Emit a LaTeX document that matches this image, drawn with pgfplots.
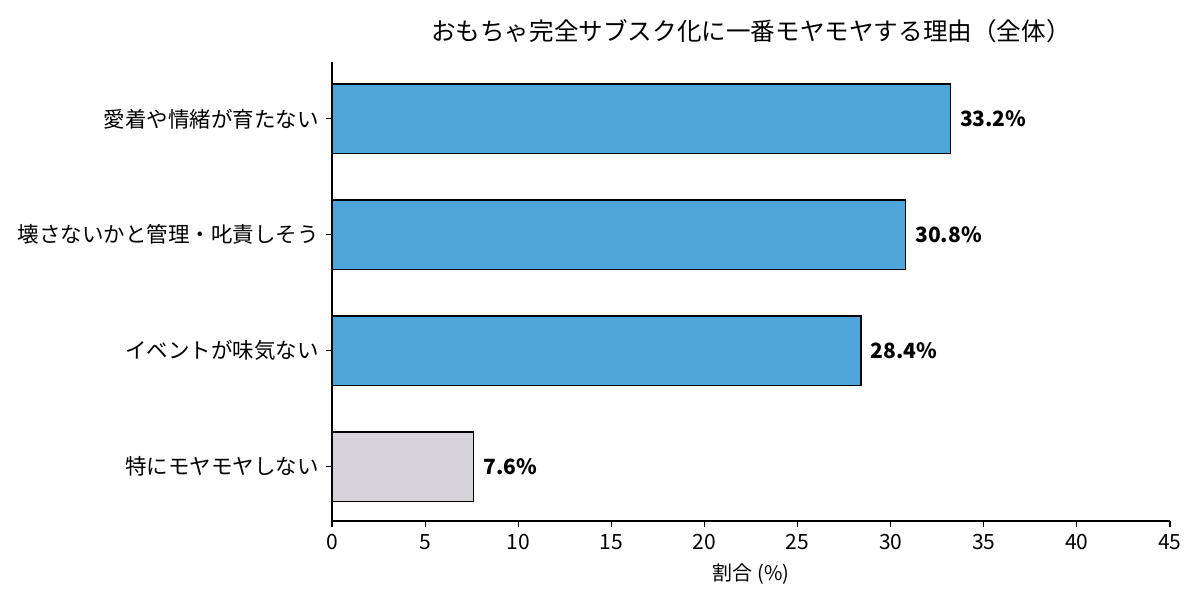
\documentclass[border=0pt]{standalone}
\usepackage{pgfplots}
\pgfplotsset{compat=1.18}
\usepackage{fontspec}
\setmainfont{Noto Sans CJK JP}
\definecolor{barblue}{HTML}{4EA5DA}
\definecolor{bargrey}{HTML}{D5D3D8}
\begin{document}
\begin{tikzpicture}
\path[use as bounding box] (-166pt,-39.5pt) rectangle (434pt,260.5pt);
\begin{axis}[
  at={(0,0)}, anchor=south west,
  scale only axis, width=419pt, height=229.5pt,
  xbar, bar width=0.6, bar shift=0pt,
  xmin=0, xmax=45, ymin=-0.47, ymax=3.49,
  axis x line*=bottom, axis y line*=left,
  xtick={0,5,...,45},
  ytick={0,1,2,3},
  yticklabels={特にモヤモヤしない,イベントが味気ない,壊さないかと管理・叱責しそう,愛着や情緒が育たない},
  tick align=outside, tick pos=lower,
  major tick length=3pt,
  tick style={black, line width=0.6pt},
  axis line style={black, line width=0.6pt},
  /pgf/number format/assume math mode=true,
  ticklabel style={font=\fontsize{10.5pt}{12pt}\selectfont},
  yticklabel style={font=\fontsize{10.75pt}{12pt}\selectfont},
  xlabel={割合 (\%)},
  xlabel style={font=\fontsize{10pt}{12pt}\selectfont, yshift=0pt},
  title={おもちゃ完全サブスク化に一番モヤモヤする理由（全体）},
  title style={font=\fontsize{12.3pt}{14pt}\selectfont, yshift=0pt},
  nodes near coords={\bfseries\pgfmathprintnumber[fixed,precision=1,fixed zerofill]{\pgfplotspointmeta}\%},
  nodes near coords style={anchor=west, inner sep=0pt, xshift=4.5pt, font=\fontsize{10.5pt}{13pt}\selectfont\bfseries},
  every node near coord/.append style={/pgf/number format/assume math mode=true},
  clip=false,
]
\addplot[fill=barblue, draw=black, line width=0.75pt] coordinates {(28.4,1) (30.8,2) (33.2,3)};
\addplot[fill=bargrey, draw=black, line width=0.75pt] coordinates {(7.6,0)};
\end{axis}
\end{tikzpicture}
\end{document}
